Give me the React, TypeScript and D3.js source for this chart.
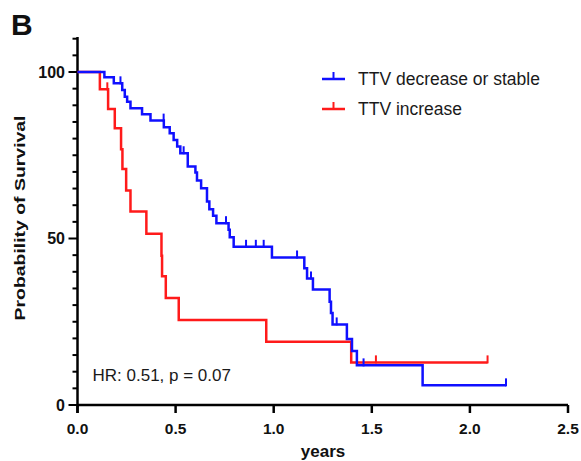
import React from 'react';
import * as d3 from 'd3';

// survival steps (years, % surviving after the drop)
const blueTimes = [0.137, 0.185, 0.228, 0.241, 0.253, 0.27, 0.329, 0.372, 0.44, 0.47, 0.49, 0.508, 0.524, 0.562, 0.601, 0.609, 0.63, 0.66, 0.672, 0.691, 0.708, 0.77, 0.776, 0.796, 0.991, 1.156, 1.17, 1.2, 1.285, 1.292, 1.3, 1.373, 1.399, 1.424, 1.759];
const blueSurv = [98.4, 96.6, 94.6, 92.6, 91.1, 89.1, 87.3, 85.4, 83.4, 81.6, 79.6, 77.6, 75.6, 71.6, 69.8, 67.4, 65.1, 61.1, 58.8, 56.8, 54.6, 52.6, 50.4, 47.5, 44.3, 41.1, 38.0, 34.7, 31.0, 27.6, 24.2, 19.8, 16.2, 11.9, 5.9];
const blueCensored = [0.219, 0.439, 0.541, 0.757, 0.859, 0.909, 0.949, 1.119, 1.19, 1.321, 1.458, 2.184];

const redTimes = [0.114, 0.156, 0.19, 0.222, 0.229, 0.248, 0.27, 0.351, 0.428, 0.431, 0.45, 0.516, 0.962, 1.395];
const redSurv = [94.8, 88.9, 83.1, 76.8, 70.9, 64.4, 58.1, 51.4, 44.8, 38.7, 32.1, 25.5, 19.0, 12.8];
const redCensored = [0.152, 1.521, 2.09];

const xTicks = [0, 0.5, 1, 1.5, 2, 2.5];
const yTicks = [0, 50, 100];
const yMinorTicks = d3.range(0, 111, 5);

const groups = ['TTV decrease or stable', 'TTV increase'];
const colours = ['#1010ff', '#ff1a1a'];

const font = 'Liberation Sans, Arial, Helvetica, sans-serif';

const x = d3.scaleLinear().domain([0, 2.5]).range([77.5, 568]);
const y = d3.scaleLinear().domain([0, 100]).range([405, 72]);

const survAt = (times: number[], surv: number[], t: number) => {
    let s = 100;
    times.forEach((tt, i) => {
        if (tt <= t) s = surv[i];
    });
    return s;
};

const stepLine = d3.line<[number, number]>()
    .x(d => x(d[0]))
    .y(d => y(d[1]))
    .curve(d3.curveStepAfter);

const Curve = ({times, surv, censored, colour}: {times: number[], surv: number[], censored: number[], colour: string}) => {
    const end = Math.max(times[times.length - 1], ...censored);
    const pts: [number, number][] = [[0, 100]];
    times.forEach((t, i) => pts.push([t, surv[i]]));
    pts.push([end, surv[surv.length - 1]]);
    return (
        <g>
            <path d={stepLine(pts) || ''} fill="none" stroke={colour} strokeWidth={2.5}/>
            {censored.map((t, i) => {
                const s = survAt(times, surv, t);
                return <line key={i} x1={x(t)} x2={x(t)} y1={y(s) + 1} y2={y(s) - 7} stroke={colour} strokeWidth={2}/>;
            })}
        </g>
    );
};

const App = () => {
    return (
        <svg width={581} height={461} style={{position: 'absolute', left: 0, top: 0, background: '#fff'}} fontFamily={font}>
            <text x={11} y={35} fontSize={30} fontWeight="bold" fill="#111">B</text>

            {/* y axis */}
            <line x1={x(0)} x2={x(0)} y1={y(0) + 8} y2={y(110.5)} stroke="#000" strokeWidth={2.5}/>
            {yMinorTicks.map(v => (
                <line key={v} x1={x(0) - (v % 50 === 0 ? 9 : 5)} x2={x(0)} y1={y(v)} y2={y(v)} stroke="#000" strokeWidth={2}/>
            ))}
            {yTicks.map(v => (
                <text key={v} x={65} y={y(v) + 5.5} textAnchor="end" fontSize={16} fontWeight="bold" fill="#111">{v}</text>
            ))}
            <text transform="translate(25, 218) rotate(-90)" textAnchor="middle" fontSize={15} fontWeight="bold" fill="#111"
                  textLength={205} lengthAdjust="spacingAndGlyphs">Probability of Survival</text>

            {/* x axis */}
            <line x1={x(0)} x2={x(2.5)} y1={y(0)} y2={y(0)} stroke="#000" strokeWidth={2.5}/>
            {xTicks.map(v => (
                <g key={v}>
                    <line x1={x(v)} x2={x(v)} y1={y(0)} y2={y(0) + 8} stroke="#000" strokeWidth={2.5}/>
                    <text x={x(v)} y={433.5} textAnchor="middle" fontSize={15.5} fontWeight="bold" fill="#111">{v.toFixed(1)}</text>
                </g>
            ))}
            <text x={323} y={457} textAnchor="middle" fontSize={17} fontWeight="bold" fill="#111">years</text>

            <Curve times={redTimes} surv={redSurv} censored={redCensored} colour={colours[1]}/>
            <Curve times={blueTimes} surv={blueSurv} censored={blueCensored} colour={colours[0]}/>

            {/* legend */}
            {groups.map((g, i) => {
                const ly = 79 + i * 30;
                return (
                    <g key={g}>
                        <line x1={322} x2={345} y1={ly} y2={ly} stroke={colours[i]} strokeWidth={2.5}/>
                        <line x1={333.5} x2={333.5} y1={ly} y2={ly - 7} stroke={colours[i]} strokeWidth={2}/>
                        <text x={358} y={ly + 6} fontSize={17.5} fill="#1a1a1a">{g}</text>
                    </g>
                );
            })}

            <text x={92.5} y={381} fontSize={17} fill="#1a1a1a">HR: 0.51, p = 0.07</text>
        </svg>
    );
};

export default App;
